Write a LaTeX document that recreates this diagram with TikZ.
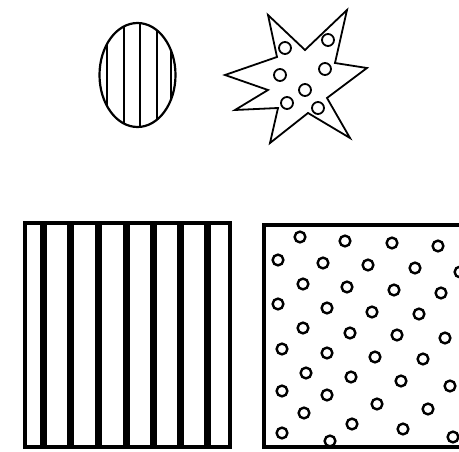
\documentclass[tikz,border=0pt]{standalone}
\usetikzlibrary{calc}
\tikzset{
  px/.style={x=1pt, y=-1pt},
  o frame/.style={draw=black, line width=3.2pt},
  o outline/.style={draw=black, line width=1.8pt},
  o hatch/.style={draw=black, line width=1.4pt},
  o bar/.style={fill=black},
  o ring/.style={draw=black, line width=2.4pt},
  o sring/.style={draw=black, line width=1.8pt},
}

\begin{document}
\begin{tikzpicture}[px]
\useasboundingbox (0,0) rectangle (459,452);
% oval with vertical hatching
\coordinate (ov) at (137.5,75);
\begin{scope}
  \clip (ov) ellipse [x radius=38, y radius=52];
  \foreach \xx in {107,124,140,157,171}
    \draw[o hatch] (\xx,20) -- (\xx,130);
\end{scope}
\draw[o outline, line width=2.2pt] (ov) ellipse [x radius=38, y radius=52];
% seven-pointed star with rings
\draw[o outline, line join=miter] (268,15) -- (305,50) -- (347,10) -- (335,63) -- (367,68)
  -- (327,98) -- (350,138) -- (308,113) -- (270,143) -- (278,108) -- (235,110)
  -- (268,90) -- (225,75) -- (277,57) -- cycle;
\foreach \cx/\cy in {285/48, 328/40, 325/69, 280/75, 305/90, 287/103, 318/108}
  \draw[o sring, fill=white] (\cx,\cy) circle (6);
% square with thick stripes
\draw[o frame] (25,223) rectangle (230,447);
\foreach \xx in {43,70,98,126,153,180,207}
  \fill[o bar] (\xx-3.5,223) rectangle (\xx+3.5,447);
% square with scattered rings
\begin{scope}
  \clip (0,0) rectangle (459,452);
  \draw[o frame] (264,225) rectangle (470,447);
\end{scope}
\foreach \cx/\cy in {300/237, 345/241, 392/243, 438/246,
    278/260, 323/263, 368/265, 415/268, 460/272,
    303/284, 347/287, 394/290, 441/293,
    278/304, 327/308, 372/312, 419/314,
    303/328, 350/333, 397/335, 445/338,
    282/349, 327/353, 375/357, 423/359,
    306/373, 351/377, 401/381, 450/386,
    282/391, 327/395, 377/404, 428/409,
    304/413, 352/424, 403/429, 453/437,
    282/433, 330/441}
  \draw[o ring] (\cx,\cy) circle (5.4);
\end{tikzpicture}
\end{document}
